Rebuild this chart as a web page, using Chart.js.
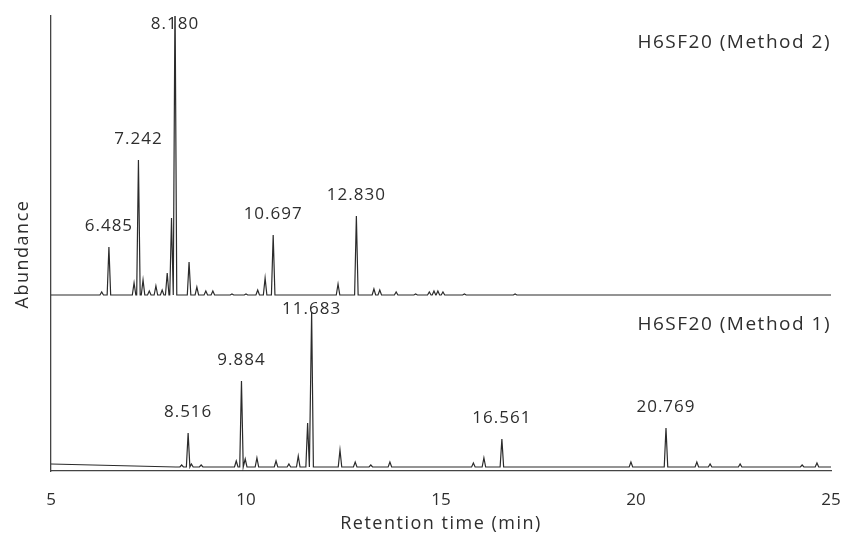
<!DOCTYPE html>
<html>
<head>
<meta charset="utf-8">
<script src="https://cdn.jsdelivr.net/npm/chart.js@4.4.1/dist/chart.umd.min.js"></script>
<style>
  body { margin: 0; background: #fff; }
  canvas { display: block; }
</style>
</head>
<body>
<canvas id="chart" width="843" height="544"></canvas>
<script>
// peak retention times (min) and heights (abundance, arbitrary units)
const method2Times = [6.30, 6.485, 7.13, 7.242, 7.36, 7.52, 7.69, 7.85, 7.98, 8.09, 8.18, 8.54, 8.74, 8.97, 9.15, 9.64, 10.0, 10.3, 10.49, 10.697, 12.36, 12.83, 13.28, 13.43, 13.85, 14.35, 14.70, 14.82, 14.92, 15.05, 15.60, 16.90];
const method2Heights = [3, 48, 12, 135, 15, 4, 9, 5, 22, 77, 300, 33, 8, 4, 4, 1, 1, 5, 17, 60, 11, 79, 6, 5, 3, 1, 3, 4, 4, 3, 1, 1];

const method1Times = [8.35, 8.516, 8.60, 8.85, 9.75, 9.884, 9.98, 10.28, 10.77, 11.10, 11.34, 11.58, 11.683, 12.41, 12.80, 13.20, 13.69, 15.83, 16.10, 16.561, 19.87, 20.769, 21.56, 21.90, 22.67, 24.26, 24.64];
const method1Heights = [2, 34, 3, 2, 6, 86, 8, 9, 6, 3, 11, 44, 155, 17, 5, 2, 5, 4, 9, 28, 5, 39, 5, 3, 3, 2, 4];

// baseline drift at the start of the method 1 run
const method1DriftTimes = [5, 8.2];
const method1DriftLevels = [3, 0];

// labelled peaks
const method2Labels = [6.485, 7.242, 8.180, 10.697, 12.830];
const method1Labels = [8.516, 9.884, 11.683, 16.561, 20.769];

const xTicks = [5, 10, 15, 20, 25];
const method2Offset = 176;
const method1Offset = 4;
const halfWidth = 0.045;

function buildTrace(times, heights, offset, driftT, driftY) {
  const pts = [];
  if (driftT) {
    driftT.forEach((t, i) => pts.push({ x: t, y: offset + driftY[i] }));
  } else {
    pts.push({ x: xTicks[0], y: offset });
  }
  times.forEach((t, i) => {
    pts.push({ x: t - halfWidth, y: offset });
    pts.push({ x: t, y: offset + heights[i] });
    pts.push({ x: t + halfWidth, y: offset });
  });
  pts.push({ x: xTicks[xTicks.length - 1], y: offset });
  return pts;
}

function heightAt(times, heights, t) {
  let best = 0, d = 1e9;
  times.forEach((tt, i) => {
    if (Math.abs(tt - t) < d) { d = Math.abs(tt - t); best = heights[i]; }
  });
  return best;
}

const FONT = "'Open Sans', sans-serif";
const TEXT = '#2e2e2e';

const annotations = {
  id: 'annotations',
  afterDraw(chart) {
    const { ctx, chartArea } = chart;
    const xs = chart.scales.x, ys = chart.scales.y;
    ctx.save();
    ctx.fillStyle = TEXT;
    ctx.textAlign = 'center';
    ctx.textBaseline = 'middle';

    // peak labels
    ctx.font = '17px ' + FONT;
    ctx.letterSpacing = '1px';
    const m2Limit = chartArea.top + 8;
    const m1Limit = ys.getPixelForValue(method2Offset) + 14;
    method2Labels.forEach(t => {
      const top = ys.getPixelForValue(method2Offset + heightAt(method2Times, method2Heights, t));
      const y = Math.max(m2Limit, top - 21);
      ctx.fillText(t.toFixed(3), xs.getPixelForValue(t), y);
    });
    method1Labels.forEach(t => {
      const top = ys.getPixelForValue(method1Offset + heightAt(method1Times, method1Heights, t));
      const y = Math.max(m1Limit, top - 21);
      ctx.fillText(t.toFixed(3), xs.getPixelForValue(t), y);
    });

    // run names
    ctx.font = '19px ' + FONT;
    ctx.letterSpacing = '1.5px';
    ctx.textAlign = 'right';
    ctx.fillText('H6SF20 (Method 2)', chartArea.right, chartArea.top + 27);
    ctx.fillText('H6SF20 (Method 1)', chartArea.right, ys.getPixelForValue(method2Offset) + 30);

    // axis titles
    ctx.font = '18px ' + FONT;
    ctx.textAlign = 'center';
    ctx.fillText('Retention time (min)', (chartArea.left + chartArea.right) / 2, 524);
    ctx.translate(23, 254);
    ctx.rotate(-Math.PI / 2);
    ctx.fillText('Abundance', 0, 0);
    ctx.restore();
  }
};

const lineStyle = {
  borderColor: '#2b2b2b',
  borderWidth: 1.2,
  pointRadius: 0,
  tension: 0,
  fill: false
};

new Chart(document.getElementById('chart'), {
  type: 'line',
  data: {
    datasets: [
      Object.assign({ label: 'H6SF20 (Method 2)', data: buildTrace(method2Times, method2Heights, method2Offset) }, lineStyle),
      Object.assign({ label: 'H6SF20 (Method 1)', data: buildTrace(method1Times, method1Heights, method1Offset, method1DriftTimes, method1DriftLevels) }, lineStyle)
    ]
  },
  options: {
    responsive: false,
    animation: false,
    devicePixelRatio: 1,
    layout: { padding: { top: 16, right: 12, left: 0, bottom: 0 } },
    plugins: { legend: { display: false }, tooltip: { enabled: false } },
    scales: {
      x: {
        type: 'linear',
        min: 5,
        max: 25,
        afterBuildTicks: scale => { scale.ticks = xTicks.map(v => ({ value: v })); },
        afterFit: scale => {
          scale.height = 73;
          scale.paddingLeft = 0;
          scale.paddingRight = 0;
        },
        grid: { display: false, drawTicks: false },
        border: { display: true, color: '#444', width: 1.3 },
        ticks: { color: TEXT, padding: 19, font: { family: "'Open Sans'", size: 17 } }
      },
      y: {
        min: 0,
        max: 455,
        afterFit: scale => { scale.width = 51; },
        grid: { display: false, drawTicks: false },
        border: { display: true, color: '#444', width: 1.3 },
        ticks: { display: false }
      }
    }
  },
  plugins: [annotations]
});
</script>
</body>
</html>
